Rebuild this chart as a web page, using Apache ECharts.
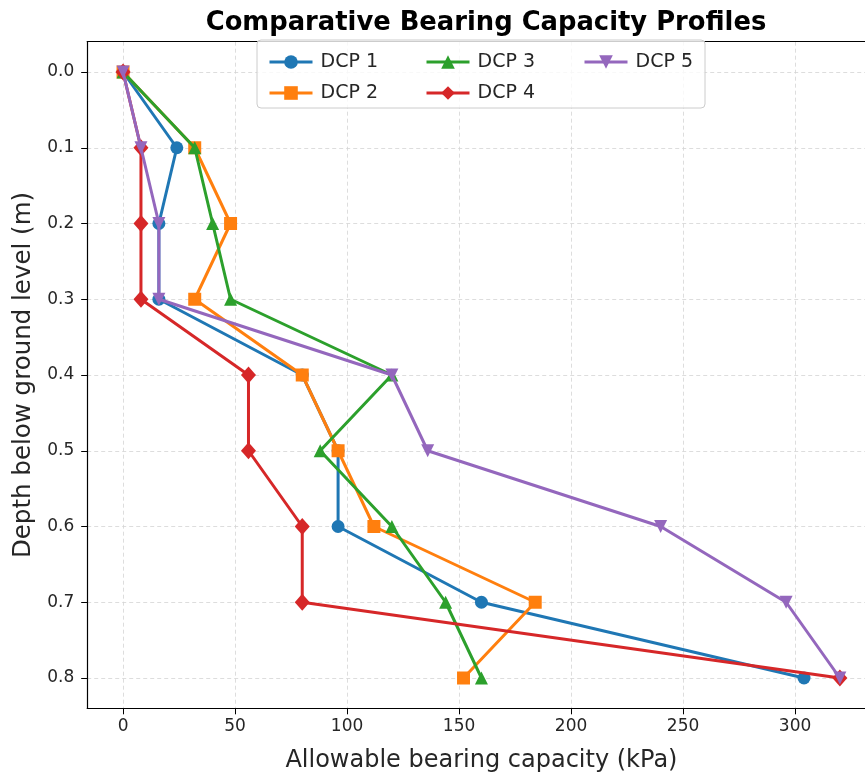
<!DOCTYPE html>
<html>
<head>
<meta charset="utf-8">
<script src="https://cdn.jsdelivr.net/npm/echarts@6/dist/echarts.min.js"></script>
<style>
  html, body { margin: 0; padding: 0; background: #fff; }
  #chart { width: 865px; height: 774px; }
</style>
</head>
<body>
<div id="chart"></div>
<script>
// Depths of each DCP reading (m)
const depths = [0.0, 0.1, 0.2, 0.3, 0.4, 0.5, 0.6, 0.7, 0.8];

// Allowable bearing capacity (kPa) at each depth
const dcp1 = [0, 24, 16, 16, 80, 96, 96, 160, 304];
const dcp2 = [0, 32, 48, 32, 80, 96, 112, 184, 152];
const dcp3 = [0, 32, 40, 48, 120, 88, 120, 144, 160];
const dcp4 = [0, 8, 8, 8, 56, 56, 80, 80, 320];
const dcp5 = [0, 8, 16, 16, 120, 136, 240, 296, 320];

const seriesNames = ['DCP 1', 'DCP 2', 'DCP 3', 'DCP 4', 'DCP 5'];

// Tick labels
const xTicks = [0, 50, 100, 150, 200, 250, 300];
const yTicks = [0.0, 0.1, 0.2, 0.3, 0.4, 0.5, 0.6, 0.7, 0.8];

const colors = ['#1f77b4', '#ff7f0e', '#2ca02c', '#d62728', '#9467bd'];
const symbols = ['circle', 'rect', 'triangle', 'diamond', 'triangle'];
const symbolSizes = [13, 13, 13, [15, 17], 13];
const symbolRotates = [0, 0, 0, 0, 180];
const allValues = [dcp1, dcp2, dcp3, dcp4, dcp5];

const chart = echarts.init(document.getElementById('chart'), null, { renderer: 'canvas' });

const series = allValues.map((vals, i) => ({
  name: seriesNames[i],
  type: 'line',
  xAxisIndex: 0,
  data: vals.map((v, k) => [v, depths[k]]),
  symbol: symbols[i],
  symbolSize: symbolSizes[i],
  symbolRotate: symbolRotates[i],
  showAllSymbol: true,
  clip: false,
  lineStyle: { color: colors[i], width: 3 },
  itemStyle: { color: colors[i] },
  emphasis: { disabled: true },
  z: 3 + i * 0.01
}));

const axisText = { color: '#262626', fontSize: 17, fontFamily: 'DejaVu Sans' };
const gridLine = { show: true, lineStyle: { color: '#d4d4d4', type: [4, 3], width: 0.8 } };
const frameLine = { show: true, onZero: false, lineStyle: { color: '#000', width: 1.2 } };

const legendCommon = {
  orient: 'vertical',
  itemWidth: 43,
  itemHeight: 17,
  itemGap: 12,
  lineStyle: { width: 3 },
  textStyle: { fontSize: 19, lineHeight: 19, color: '#262626', fontFamily: 'DejaVu Sans', padding: [0, 0, 0, 3] },
  selectedMode: false,
  z: 20
};

const option = {
  animation: false,
  backgroundColor: '#fff',
  title: {
    text: 'Comparative Bearing Capacity Profiles',
    left: 481,
    top: 5,
    textAlign: 'center',
    textStyle: { fontSize: 25.8, fontWeight: 'bold', color: '#000', fontFamily: 'DejaVu Sans' }
  },
  grid: {
    left: 87.2,
    top: 41.7,
    width: 788.5,
    height: 666.6,
    outerBoundsMode: 'none',
    containLabel: false,
    show: false
  },
  graphic: [{
    type: 'rect',
    shape: { x: 257, y: 40, width: 448, height: 68, r: 4 },
    style: { fill: 'rgba(255,255,255,0.8)', stroke: '#cccccc', lineWidth: 1 },
    z: 15
  }],
  legend: [
    Object.assign({}, legendCommon, { data: ['DCP 1', 'DCP 2'], left: 263, top: 47.5 }),
    Object.assign({}, legendCommon, { data: ['DCP 3', 'DCP 4'], left: 420, top: 47.5 }),
    Object.assign({}, legendCommon, { data: ['DCP 5'], left: 578, top: 47.5 })
  ],
  xAxis: [{
    type: 'value',
    position: 'bottom',
    min: -16,
    max: 336,
    name: 'Allowable bearing capacity (kPa)',
    nameLocation: 'middle',
    nameGap: 40,
    nameTextStyle: { fontSize: 24, color: '#262626', fontFamily: 'DejaVu Sans' },
    axisLine: frameLine,
    axisTick: { show: true, length: 6, customValues: xTicks, lineStyle: { color: '#000', width: 1 } },
    axisLabel: Object.assign({ customValues: xTicks, margin: 10 }, axisText),
    splitLine: gridLine
  }, {
    // top edge of the plot frame
    type: 'value',
    position: 'top',
    min: -16,
    max: 336,
    axisLine: frameLine,
    axisTick: { show: false },
    axisLabel: { show: false },
    splitLine: { show: false }
  }],
  yAxis: {
    type: 'value',
    inverse: true,
    min: -0.04,
    max: 0.84,
    name: 'Depth below ground level (m)',
    nameLocation: 'middle',
    nameGap: 50,
    nameRotate: 90,
    nameTextStyle: { fontSize: 24.5, color: '#262626', fontFamily: 'DejaVu Sans' },
    axisLine: frameLine,
    axisTick: { show: true, length: 6, customValues: yTicks, lineStyle: { color: '#000', width: 1 } },
    axisLabel: Object.assign({
      customValues: yTicks,
      margin: 13,
      formatter: v => v.toFixed(1)
    }, axisText),
    splitLine: gridLine
  },
  series: series
};

chart.setOption(option);
</script>
</body>
</html>
